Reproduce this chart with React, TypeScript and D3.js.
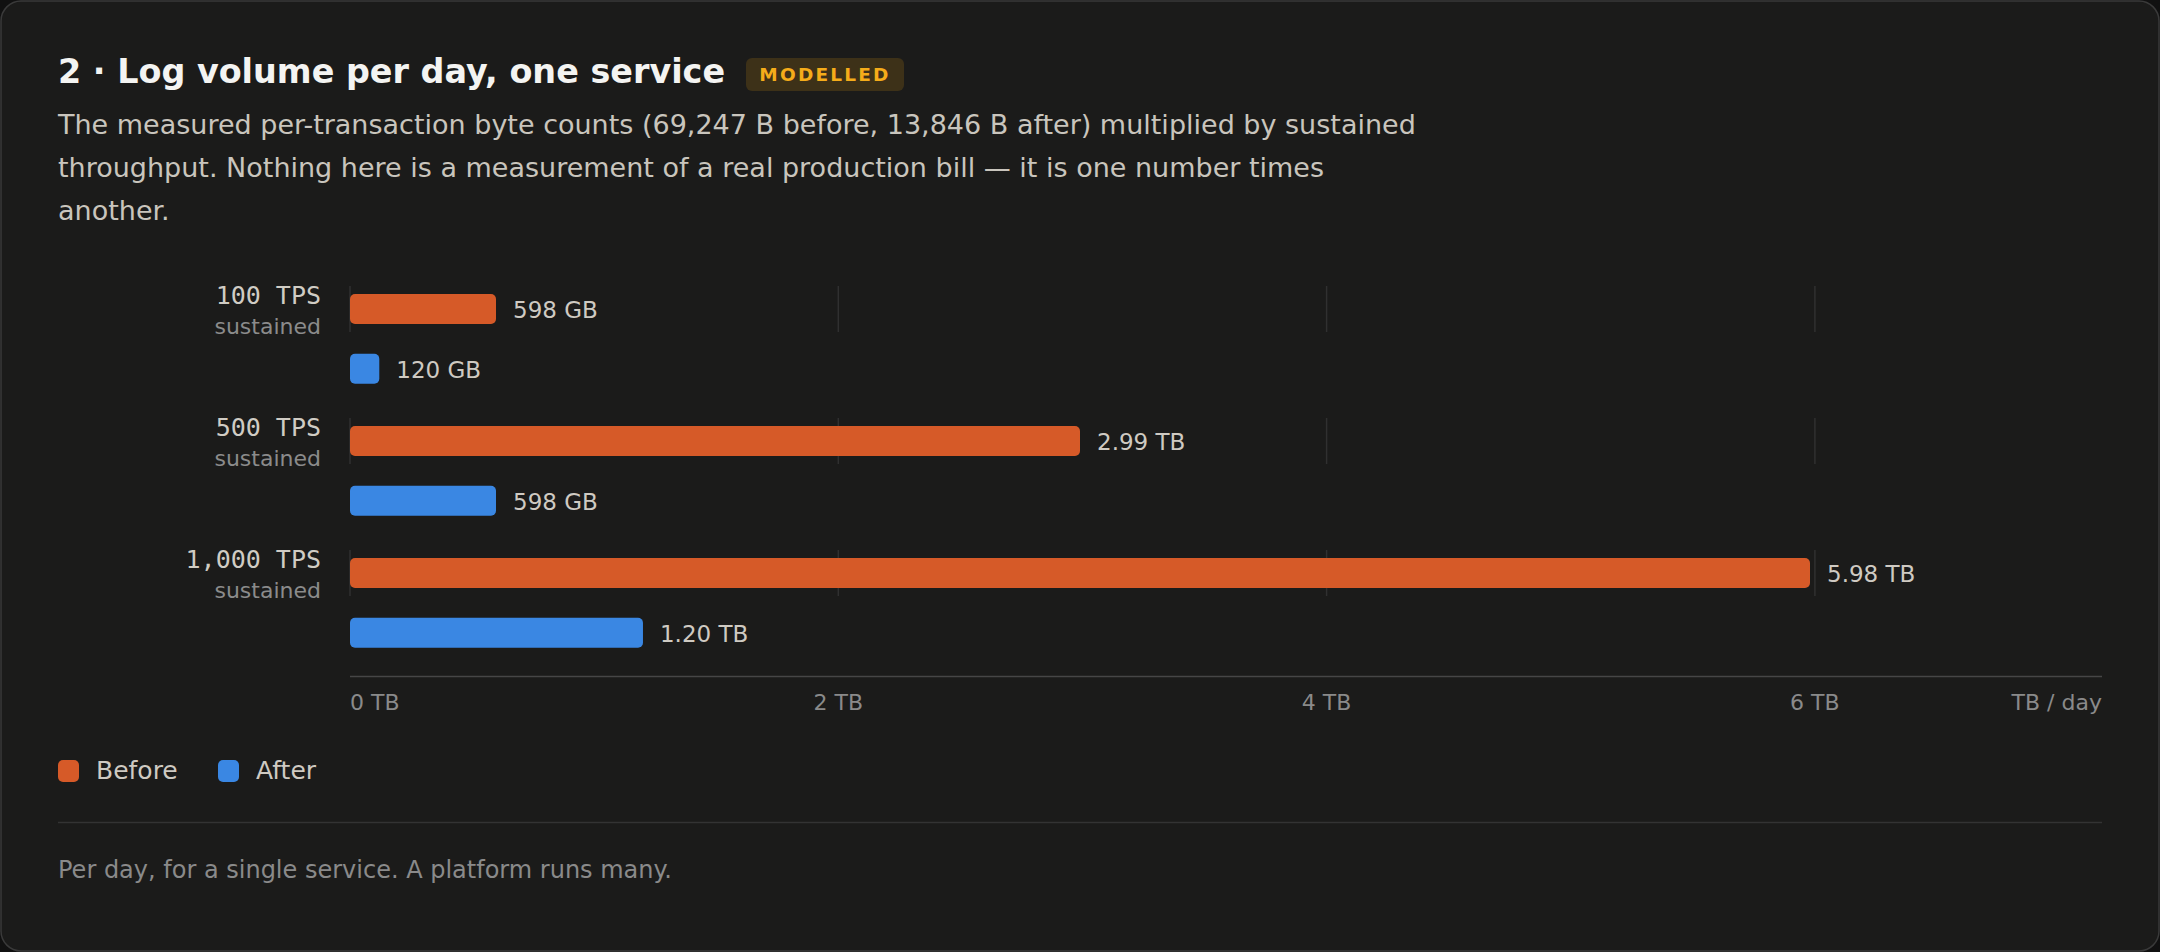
import React from 'react';
import * as d3 from 'd3';

const groups = ['100 TPS', '500 TPS', '1,000 TPS'];
const beforeTB = [0.598, 2.99, 5.98];
const afterTB = [0.12, 0.598, 1.2];
const beforeLabels = ['598 GB', '2.99 TB', '5.98 TB'];
const afterLabels = ['120 GB', '598 GB', '1.20 TB'];
const tickValues = [0, 2, 4, 6];
const series = ['Before', 'After'];
const seriesColors = ['#d65a28', '#3a87e3'];

const W = 2160;
const H = 952;
const SANS = '"DejaVu Sans", Verdana, sans-serif';
const MONO = '"DejaVu Sans Mono", monospace';

const App: React.FC = () => {
  const x = d3.scaleLinear().domain([0, d3.max(beforeTB)! * 1.2]).range([350, 2102]);
  const yGroup = d3.scaleBand<string>().domain(groups).range([294, 690]);
  const yInner = d3.scaleBand<string>().domain(series).range([0, 89.7]).paddingInner(0.5);
  const bw = yInner.bandwidth();

  return (
    <svg width={W} height={H} style={{ position: 'absolute', left: 0, top: 0, background: '#111' }}>
      <rect x={1} y={1} width={W - 2} height={H - 2} rx={20} fill="#1b1b1a" stroke="#3a3a3a" strokeWidth={1.5} />

      {/* header */}
      <text x={58} y={83} fontFamily={SANS} fontWeight={700} fontSize={33.4} fill="#f4f4f2">
        2 · Log volume per day, one service
      </text>
      <rect x={746} y={58} width={158} height={33} rx={6} fill="#3d3118" />
      <text x={825} y={81} textAnchor="middle" fontFamily={SANS} fontWeight={700} fontSize={18.5} letterSpacing={2.2} fill="#f5ac1a">
        MODELLED
      </text>
      <text fontFamily={SANS} fontSize={27} fill="#c9c5bd">
        <tspan x={58} y={134}>The measured per-transaction byte counts (69,247 B before, 13,846 B after) multiplied by sustained</tspan>
        <tspan x={58} y={177}>throughput. Nothing here is a measurement of a real production bill — it is one number times</tspan>
        <tspan x={58} y={220}>another.</tspan>
      </text>

      {/* groups */}
      {groups.map((g, i) => {
        const y0 = yGroup(g)!;
        const yb = y0 + yInner('Before')!;
        const ya = y0 + yInner('After')!;
        return (
          <g key={g}>
            {tickValues.map(t => (
              <line key={t} x1={x(t)} x2={x(t)} y1={yb - 8} y2={yb + 38} stroke="#303030" strokeWidth={1.5} />
            ))}
            <text x={321} y={y0 + 10} textAnchor="end" fontFamily={MONO} fontSize={25} fill="#d0ccc4">{g}</text>
            <text x={321} y={y0 + 40} textAnchor="end" fontFamily={SANS} fontSize={22} fill="#8b8b8b">sustained</text>
            <rect x={x(0)} y={yb} width={x(beforeTB[i]) - x(0)} height={bw} rx={5} fill={seriesColors[0]} />
            <text x={x(beforeTB[i]) + 17} y={yb + bw / 2 + 9} fontFamily={SANS} fontSize={23} fill="#cfcac2">{beforeLabels[i]}</text>
            <rect x={x(0)} y={ya} width={x(afterTB[i]) - x(0)} height={bw} rx={5} fill={seriesColors[1]} />
            <text x={x(afterTB[i]) + 17} y={ya + bw / 2 + 9} fontFamily={SANS} fontSize={23} fill="#cfcac2">{afterLabels[i]}</text>
          </g>
        );
      })}

      {/* axis */}
      <line x1={x.range()[0]} x2={x.range()[1]} y1={676.5} y2={676.5} stroke="#464646" strokeWidth={1.5} />
      {tickValues.map((t, i) => (
        <text key={t} x={x(t)} y={710} textAnchor={i === 0 ? 'start' : 'middle'} fontFamily={SANS} fontSize={22} fill="#8a8a8a">
          {`${t} TB`}
        </text>
      ))}
      <text x={x.range()[1]} y={710} textAnchor="end" fontFamily={SANS} fontSize={22} fill="#8a8a8a">TB / day</text>

      {/* legend */}
      {series.map((s, i) => {
        const lx = [58, 218][i];
        return (
          <g key={s}>
            <rect x={lx} y={760} width={21} height={22} rx={5} fill={seriesColors[i]} />
            <text x={lx + 38} y={779} fontFamily={SANS} fontSize={25} fill="#cfcac2">{s}</text>
          </g>
        );
      })}

      <line x1={58} x2={2102} y1={822.5} y2={822.5} stroke="#333" strokeWidth={1.5} />
      <text x={58} y={878} fontFamily={SANS} fontSize={24} fill="#8a8a8a">
        Per day, for a single service. A platform runs many.
      </text>
    </svg>
  );
};

export default App;
